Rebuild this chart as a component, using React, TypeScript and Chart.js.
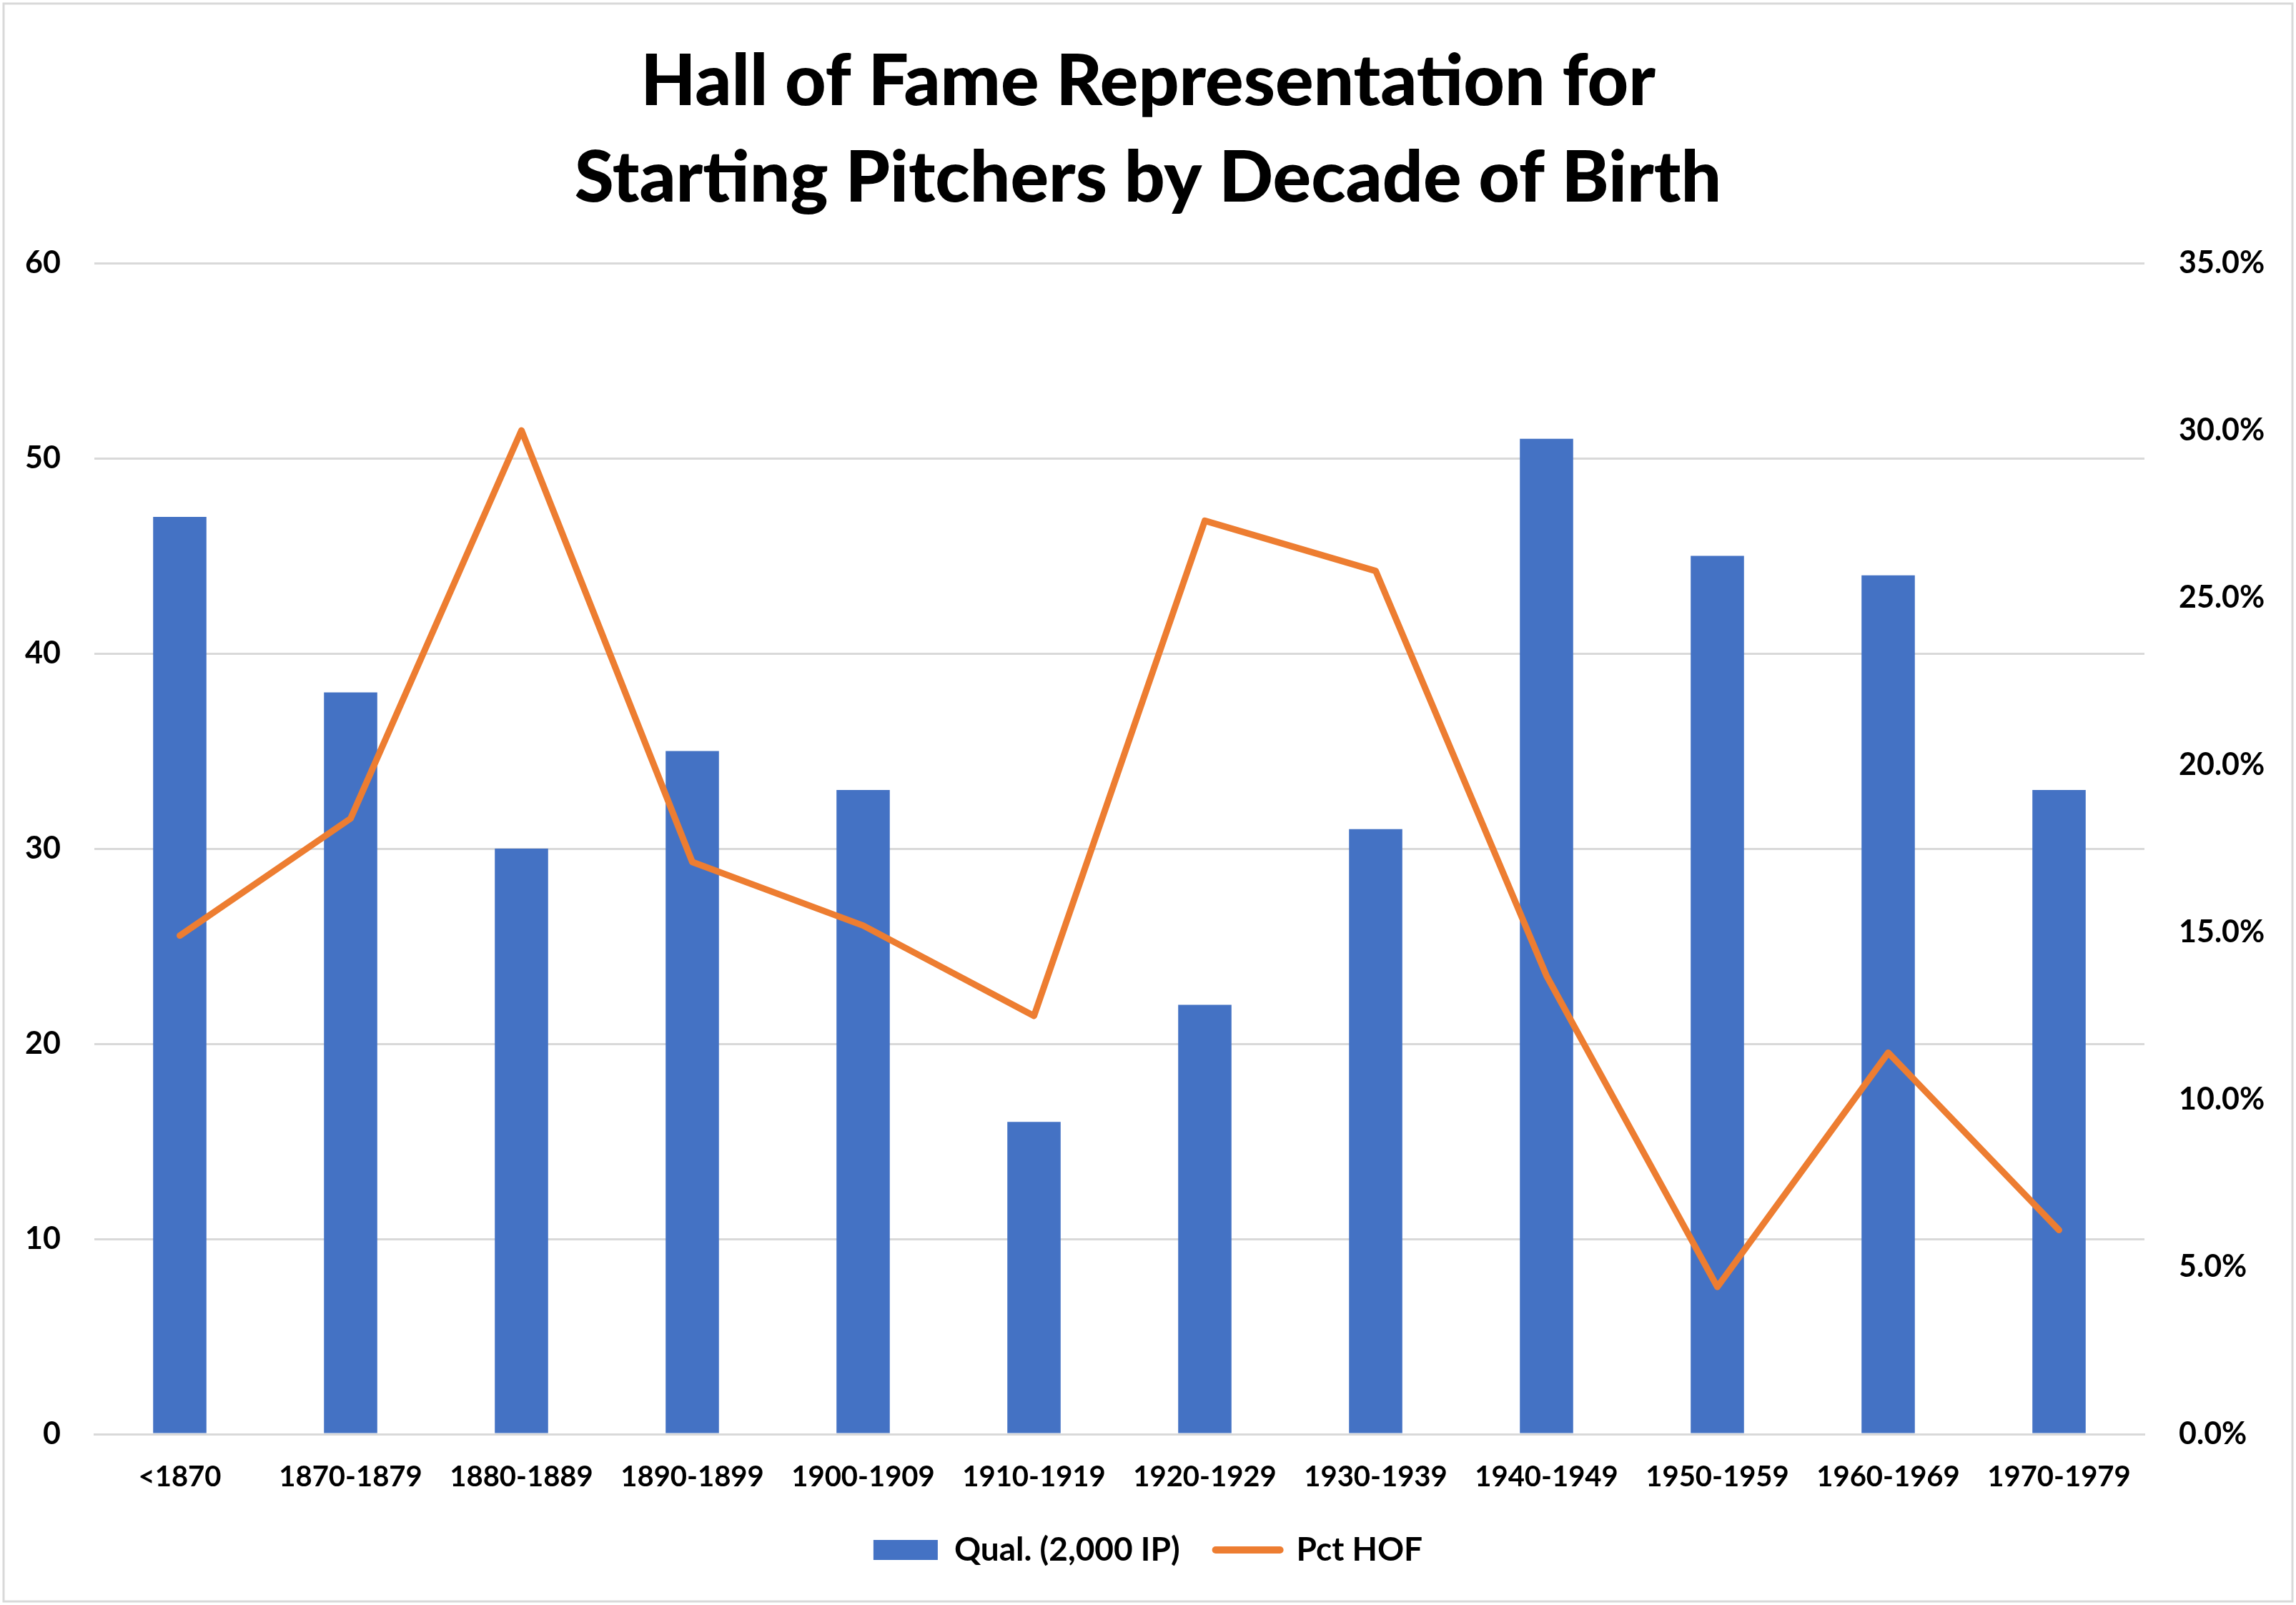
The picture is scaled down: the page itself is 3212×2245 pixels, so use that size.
import React, { useEffect, useRef } from "react";
import { Chart, registerables } from "chart.js";

Chart.register(...registerables);

const categories = [
  "<1870", "1870-1879", "1880-1889", "1890-1899", "1900-1909", "1910-1919",
  "1920-1929", "1930-1939", "1940-1949", "1950-1959", "1960-1969", "1970-1979",
];
const qualified = [47, 38, 30, 35, 33, 16, 22, 31, 51, 45, 44, 33];
const pctHof = [0.149, 0.184, 0.3, 0.171, 0.152, 0.125, 0.273, 0.258, 0.137, 0.044, 0.114, 0.061];
const titleLines = ["Hall of Fame Representation for", "Starting Pitchers by Decade of Birth"];
const barLabel = "Qual. (2,000 IP)";
const lineLabel = "Pct HOF";

const FONT = "Lato, 'Open Sans', sans-serif";
const BLUE = "#4472C4";
const ORANGE = "#ED7D31";
const GRID = "#d9d9d9";

const borderPlugin = {
  id: "outerBorder",
  beforeDraw(chart: any) {
    const ctx = chart.ctx;
    ctx.save();
    ctx.fillStyle = "#ffffff";
    ctx.fillRect(0, 0, chart.width, chart.height);
    ctx.strokeStyle = GRID;
    ctx.lineWidth = 3;
    ctx.strokeRect(5, 5, chart.width - 10, chart.height - 10);
    ctx.restore();
  },
};

export default function App() {
  const ref = useRef<HTMLCanvasElement | null>(null);
  useEffect(() => {
    if (!ref.current) return;
    const chart = new Chart(ref.current, {
      type: "bar",
      data: {
        labels: categories,
        datasets: [
          {
            type: "line",
            label: lineLabel,
            data: pctHof,
            yAxisID: "y2",
            borderColor: ORANGE,
            backgroundColor: ORANGE,
            borderWidth: 9,
            pointRadius: 0,
            borderJoinStyle: "round",
            borderCapStyle: "round",
            tension: 0,
            order: 0,
          } as any,
          {
            type: "bar",
            label: barLabel,
            data: qualified,
            yAxisID: "y",
            backgroundColor: BLUE,
            borderWidth: 0,
            categoryPercentage: 1,
            barPercentage: 0.312,
            order: 1,
          } as any,
        ],
      },
      options: {
        animation: false,
        responsive: false,
        maintainAspectRatio: false,
        devicePixelRatio: 1,
        layout: { padding: { top: 0, bottom: 44, left: 0, right: 0 } },
        plugins: {
          tooltip: { enabled: false },
          title: {
            display: true,
            text: titleLines,
            color: "#000",
            font: { family: FONT, size: 100, weight: "900", lineHeight: 135 / 100 },
            padding: { top: 47, bottom: 51 },
          },
          legend: {
            position: "bottom",
            labels: {
              usePointStyle: true,
              pointStyleWidth: 90,
              boxHeight: 28,
              padding: 50,
              color: "#000",
              font: { family: FONT, size: 46, weight: "bold" },
              generateLabels: () => [
                {
                  text: barLabel,
                  fillStyle: BLUE,
                  strokeStyle: BLUE,
                  lineWidth: 0,
                  pointStyle: "rect",
                  datasetIndex: 1,
                  hidden: false,
                },
                {
                  text: lineLabel,
                  fillStyle: ORANGE,
                  strokeStyle: ORANGE,
                  lineWidth: 10,
                  lineCap: "round",
                  pointStyle: "line",
                  datasetIndex: 0,
                  hidden: false,
                },
              ] as any,
            },
          },
        },
        scales: {
          x: {
            offset: true,
            grid: { display: false, drawTicks: false },
            border: { display: true, color: GRID, width: 3 },
            ticks: {
              color: "#000",
              padding: 36,
              maxRotation: 0,
              autoSkip: false,
              font: { family: FONT, size: 40, weight: "bold" },
            },
            afterFit: (s: any) => {
              s.height = 89;
            },
          },
          y: {
            position: "left",
            min: 0,
            max: 60,
            ticks: {
              stepSize: 10,
              color: "#000",
              padding: 47,
              font: { family: FONT, size: 43, weight: "bold" },
            },
            grid: { color: GRID, lineWidth: 3, drawTicks: false },
            border: { display: false },
            afterFit: (s: any) => {
              s.width = 132;
            },
          },
          y2: {
            position: "right",
            min: 0,
            max: 0.35,
            ticks: {
              stepSize: 0.05,
              color: "#000",
              padding: 48,
              font: { family: FONT, size: 43, weight: "bold" },
              callback: (v: any) => (Number(v) * 100).toFixed(1) + "%",
            },
            grid: { display: false, drawTicks: false },
            border: { display: false },
            afterFit: (s: any) => {
              s.width = 212;
            },
          },
        },
      },
      plugins: [borderPlugin],
    });
    return () => chart.destroy();
  }, []);
  return (
    <div style={{ position: "absolute", left: 0, top: 0, width: 3212, height: 2245 }}>
      <canvas ref={ref} width={3212} height={2245} style={{ width: 3212, height: 2245 }} />
    </div>
  );
}
